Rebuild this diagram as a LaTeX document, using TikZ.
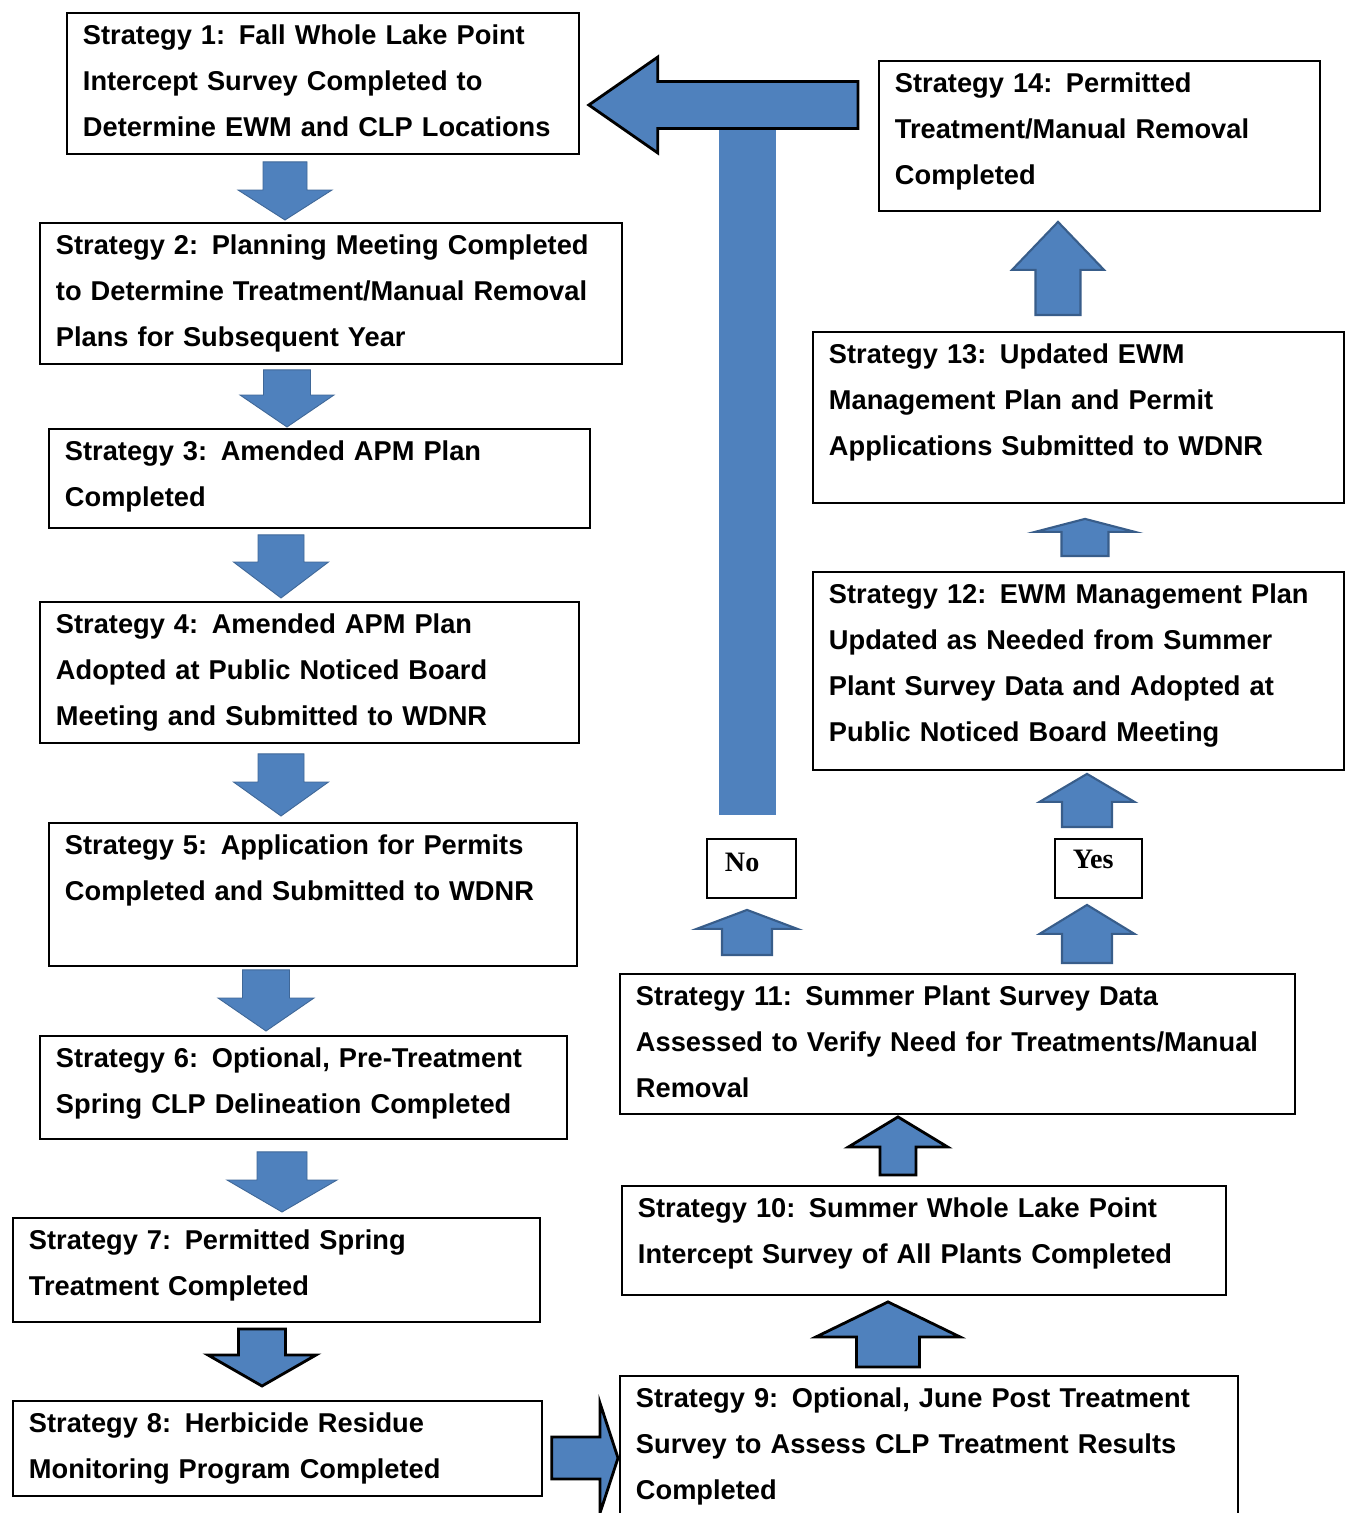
\documentclass[tikz,border=0pt]{standalone}
\usepackage{fontspec}
\setmainfont{Liberation Sans}
\newfontfamily\answerfont{Liberation Serif}
\usepackage{xcolor}
\usepackage{tikz}
\usetikzlibrary{calc}

\definecolor{arrowblue}{RGB}{79,129,189}
\definecolor{arrowedge}{RGB}{56,93,138}

\tikzset{
  blk sw/.store in=\blksw, blk hw/.store in=\blkhw, blk hl/.store in=\blkhl,
  blk gs/.store in=\blkgs, blk gt/.store in=\blkgt,
  blk sw=0.46cm, blk hw=0.94cm, blk hl=0.64cm, blk gs=0.12cm, blk gt=0.06cm,
  blockarrow/.style={fill=arrowblue, line join=miter,
    to path={($(\tikztostart)!\blkgs!(\tikztotarget)$) coordinate (blkS)
      ($(\tikztotarget)!\blkgt!(\tikztostart)$) coordinate (blkT)
      ($(blkT)!\blkhl!(blkS)$) coordinate (blkH)
      ($(blkS)!\blksw!90:(blkT)$) -- ($(blkH)!\blksw!90:(blkT)$) -- ($(blkH)!\blkhw!90:(blkT)$)
      -- (blkT) -- ($(blkH)!\blkhw!-90:(blkT)$) -- ($(blkH)!\blksw!-90:(blkT)$)
      -- ($(blkS)!\blksw!-90:(blkT)$) -- cycle}},
  softarrow/.style={blockarrow, draw=arrowblue!80!black, line width=0.5pt},
  navyarrow/.style={blockarrow, draw=arrowedge, line width=1.2pt},
  blackarrow/.style={blockarrow, draw=black, line width=1.6pt},
  stratbox/.style={draw, line width=1.1pt, fill=white, anchor=north west, inner xsep=0.32cm, inner ysep=0pt,
    align=left, text height=0.63cm, font=\fontsize{15.5}{26.2}\selectfont\bfseries},
  answerbox/.style={draw, line width=1.1pt, fill=white, anchor=north west, inner xsep=0.36cm, inner ysep=0pt,
    align=left, text height=0.66cm, text depth=0.52cm, font=\answerfont\fontsize{16}{19}\selectfont\bfseries}
}

\begin{document}
\begin{tikzpicture}[x=0.02cm, y=-0.02cm]
\path[fill=white, use as bounding box] (0,0) rectangle (1345,1513);

\node[stratbox, text width=9.60cm, text depth=2.19cm] (s1) at (66,12)
  {Strategy 1: Fall Whole Lake Point\\Intercept Survey Completed to\\Determine EWM and CLP Locations};
\node[stratbox, text width=11.00cm, text depth=2.19cm] (s2) at (39,222)
  {Strategy 2: Planning Meeting Completed\\to Determine Treatment/Manual Removal\\Plans for Subsequent Year};
\node[stratbox, text width=10.18cm, text depth=1.35cm] (s3) at (48,428)
  {Strategy 3: Amended APM Plan\\Completed};
\node[stratbox, text width=10.14cm, text depth=2.19cm] (s4) at (39,601)
  {Strategy 4: Amended APM Plan\\Adopted at Public Noticed Board\\Meeting and Submitted to WDNR};
\node[stratbox, text width=9.92cm, text depth=2.23cm] (s5) at (48,822)
  {Strategy 5: Application for Permits\\Completed and Submitted to WDNR};
\node[stratbox, text width=9.90cm, text depth=1.43cm] (s6) at (39,1035)
  {Strategy 6: Optional, Pre-Treatment\\Spring CLP Delineation Completed};
\node[stratbox, text width=9.90cm, text depth=1.45cm] (s7) at (12,1217)
  {Strategy 7: Permitted Spring\\Treatment Completed};
\node[stratbox, text width=9.94cm, text depth=1.27cm] (s8) at (12,1400)
  {Strategy 8: Herbicide Residue\\Monitoring Program Completed};
\node[stratbox, text width=11.72cm, text depth=2.37cm] (s9) at (619,1375)
  {Strategy 9: Optional, June Post Treatment\\Survey to Assess CLP Treatment Results\\Completed};
\node[stratbox, text width=11.44cm, text depth=1.55cm] (s10) at (621,1185)
  {Strategy 10: Summer Whole Lake Point\\Intercept Survey of All Plants Completed};
\node[stratbox, text width=12.86cm, text depth=2.17cm] (s11) at (619,973)
  {Strategy 11: Summer Plant Survey Data\\Assessed to Verify Need for Treatments/Manual\\Removal};
\node[stratbox, text width=9.98cm, text depth=3.33cm] (s12) at (812,571)
  {Strategy 12: EWM Management Plan\\Updated as Needed from Summer\\Plant Survey Data and Adopted at\\Public Noticed Board Meeting};
\node[stratbox, text width=9.98cm, text depth=2.79cm] (s13) at (812,331)
  {Strategy 13: Updated EWM\\Management Plan and Permit\\Applications Submitted to WDNR};
\node[stratbox, text width=8.18cm, text depth=2.37cm] (s14) at (878,60)
  {Strategy 14: Permitted\\Treatment/Manual Removal\\Completed};
\node[answerbox, text width=1.06cm] (no) at (706,838) {No};
\node[answerbox, text width=1.02cm, text height=0.60cm, text depth=0.58cm] (yes) at (1054,838) {Yes};

\coordinate (nocol) at (747,0);
\coordinate (bend) at (858,105);
\coordinate (r8) at (0,1458);

\draw[softarrow, blk sw=0.44cm, blk hl=0.60cm, blk gs=0.14cm, blk gt=0.04cm] (285,0 |- s1.south) to (285,0 |- s2.north);
\draw[softarrow, blk sw=0.47cm, blk gs=0.10cm, blk gt=0.02cm] (287,0 |- s2.south) to (287,0 |- s3.north);
\draw[softarrow, blk hw=0.95cm, blk hl=0.72cm, blk gs=0.12cm] (281,0 |- s3.south) to (281,0 |- s4.north);
\draw[softarrow, blk hw=0.95cm, blk hl=0.68cm, blk gs=0.20cm, blk gt=0.12cm] (281,0 |- s4.south) to (281,0 |- s5.north);
\draw[softarrow, blk sw=0.47cm, blk hw=0.96cm, blk hl=0.66cm, blk gs=0.06cm, blk gt=0.08cm] (266,0 |- s5.south) to (266,0 |- s6.north);
\draw[softarrow, blk sw=0.50cm, blk hw=1.10cm, blk gs=0.24cm, blk gt=0.10cm] (282,0 |- s6.south) to (282,0 |- s7.north);
\draw[blackarrow, blk sw=0.47cm, blk hw=1.08cm, blk hl=0.62cm, blk gs=0.12cm, blk gt=0.28cm] (262,0 |- s7.south) to (262,0 |- s8.north);
\draw[blackarrow, blk sw=0.42cm, blk hw=1.10cm, blk hl=0.36cm, blk gs=0.18cm, blk gt=0.02cm] (s8.east |- r8) to (s9.west |- r8);

\draw[blackarrow, blk sw=0.63cm, blk hw=1.44cm, blk hl=0.70cm, blk gs=0.16cm, blk gt=0.12cm] (888,0 |- s9.north) to (888,0 |- s10.south);
\draw[blackarrow, blk sw=0.36cm, blk hw=0.99cm, blk hl=0.60cm, blk gs=0.20cm, blk gt=0.04cm] (898,0 |- s10.north) to (898,0 |- s11.south);
\draw[navyarrow, blk sw=0.50cm, blk hw=1.01cm, blk hl=0.38cm, blk gs=0.36cm, blk gt=0.22cm] (nocol |- s11.north) to (nocol |- no.south);
\draw[navyarrow, blk sw=0.50cm, blk hw=0.95cm, blk hl=0.58cm, blk gs=0.20cm, blk gt=0.12cm] (1087,0 |- s11.north) to (1087,0 |- yes.south);
\draw[navyarrow, blk sw=0.50cm, blk hw=0.95cm, blk hl=0.56cm, blk gs=0.22cm, blk gt=0.06cm] (1087,0 |- yes.north) to (1087,0 |- s12.south);
\draw[navyarrow, blk sw=0.47cm, blk hw=1.00cm, blk hl=0.26cm, blk gs=0.30cm, blk gt=0.30cm] (1085,0 |- s12.north) to (1085,0 |- s13.south);
\draw[navyarrow, blk sw=0.45cm, blk hw=0.92cm, blk hl=0.96cm, blk gs=0.32cm, blk gt=0.20cm] (1058,0 |- s13.north) to (1058,0 |- s14.south);

\fill[arrowblue] ($(nocol |- no.north)+(-28.5,-23)$) rectangle ($(nocol |- bend)+(28.5,0)$);
\draw[blackarrow, blk sw=0.47cm, blk hw=0.96cm, blk hl=1.38cm, blk gs=0cm, blk gt=0.18cm] (bend) to (s1.east |- bend);
\end{tikzpicture}
\end{document}
